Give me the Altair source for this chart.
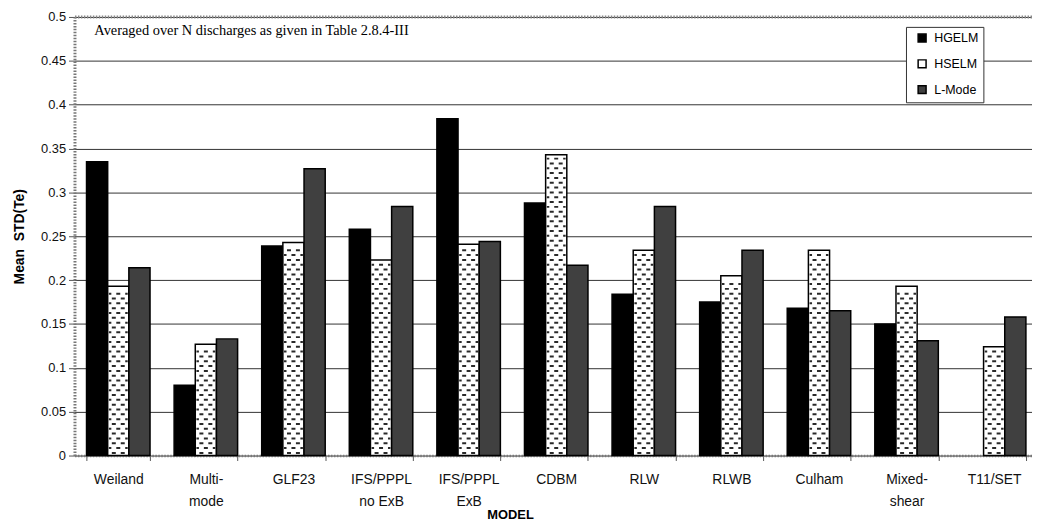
import altair as alt
import pandas as pd

# ---- data ----
models = ["Weiland", "Multi-|mode", "GLF23", "IFS/PPPL|no ExB", "IFS/PPPL|ExB",
          "CDBM", "RLW", "RLWB", "Culham", "Mixed-|shear", "T11/SET"]
series = ["HGELM", "HSELM", "L-Mode"]
hgelm = [0.335, 0.080, 0.239, 0.258, 0.384, 0.288, 0.184, 0.175, 0.168, 0.150, None]
hselm = [0.193, 0.127, 0.243, 0.223, 0.241, 0.343, 0.234, 0.205, 0.234, 0.193, 0.124]
lmode = [0.214, 0.133, 0.327, 0.284, 0.244, 0.217, 0.284, 0.234, 0.165, 0.131, 0.158]
y_ticks = [0, 0.05, 0.1, 0.15, 0.2, 0.25, 0.3, 0.35, 0.4, 0.45, 0.5]
note = "Averaged over N discharges as given in Table 2.8.4-III"

rows = []
for m, a, b, c in zip(models, hgelm, hselm, lmode):
    for s, v in zip(series, (a, b, c)):
        if v is not None:
            rows.append({"model": m, "series": s, "value": v})
df = pd.DataFrame(rows)

# dotted fill pattern for the HSELM bars, derived from the HSELM values
pat = []
for m, v in zip(models, hselm):
    k = 0
    yy = 0.003
    while yy < v - 0.004:
        pat.append({"model": m, "series": "HSELM", "value": yy, "kind": k % 2})
        k += 1
        yy += 0.0055
pdf = pd.DataFrame(pat)

FONT = "Liberation Sans"

xenc = alt.X("model:N", sort=models,
             scale=alt.Scale(paddingInner=0.275, paddingOuter=0.1375, range=[0, 971]),
             axis=alt.Axis(title="MODEL", labelExpr="split(datum.label, '|')",
                           labelAngle=0, labelFont=FONT, labelFontSize=14,
                           labelColor="#111", labelLineHeight=22, labelPadding=12,
                           tickBand="extent", tickSize=5, tickColor="#555",
                           domainColor="#777", domainWidth=2.5, domainDash=[1.5, 1.5],
                           titleFont=FONT, titleFontSize=13, titleFontWeight="bold",
                           titleX=439, titleY=59, titleAnchor="start", titleAlign="center",
                           titleBaseline="middle", titleColor="#000"))
xoff = alt.XOffset("series:N", sort=series, scale=alt.Scale(paddingInner=0, paddingOuter=0))
yscale = alt.Scale(domain=[0, 0.5], nice=False, zero=True)

bars = alt.Chart(df).mark_bar(stroke="black", strokeWidth=1.5).encode(
    x=xenc,
    xOffset=xoff,
    y=alt.Y("value:Q", scale=yscale,
            axis=alt.Axis(title="Mean\u00a0\u00a0STD(Te)", values=y_ticks, format="~g",
                          labelFont=FONT, labelFontSize=13, labelColor="#111",
                          tickSize=6, tickColor="#555", labelPadding=3,
                          domainColor="#777", domainWidth=3, domainDash=[1.5, 1.5],
                          grid=True, gridColor="#333", gridWidth=1,
                          titleFont=FONT, titleFontSize=14, titleFontWeight="bold",
                          titleColor="#000", titleX=-55, titleY=221,
                          titleAlign="center", titleBaseline="middle", titleAngle=270)),
    fill=alt.Fill("series:N", sort=series,
                  scale=alt.Scale(domain=series, range=["#000000", "#ffffff", "#404040"]),
                  legend=alt.Legend(title=None, orient="none", legendX=838, legendY=10,
                                    strokeColor="#333", fillColor="white", padding=5,
                                    symbolType="square", symbolSize=64,
                                    symbolStrokeColor="black", symbolStrokeWidth=1.5,
                                    labelFont=FONT, labelFontSize=12.5, labelColor="#000",
                                    labelOffset=6, rowPadding=11, symbolOffset=5)),
)

shapeA = "M-6.5,-1H-2.5V1H-6.5Z M2.5,-1H6.5V1H2.5Z"
shapeB = "M-2,-1H2V1H-2Z M7,-1H9.5V1H7Z M-9.5,-1H-7V1H-9.5Z"
pattern = alt.Chart(pdf).mark_point(filled=True, size=4, opacity=1, color="#2a2a2a").encode(
    x=alt.X("model:N", sort=models),
    xOffset=alt.XOffset("series:N", sort=series),
    y=alt.Y("value:Q", scale=yscale),
    shape=alt.Shape("kind:N", scale=alt.Scale(domain=[0, 1], range=[shapeA, shapeB]), legend=None),
)

top_border = alt.Chart(pd.DataFrame({"v": [0.5]})).mark_rule(
    color="#888", strokeWidth=3, strokeDash=[1.5, 1.5]).encode(y=alt.Y("v:Q", scale=yscale))

text = alt.Chart(pd.DataFrame({"t": [note]})).mark_text(
    align="left", baseline="alphabetic", font="Liberation Serif", fontSize=14.5, color="#000"
).encode(x=alt.value(20), y=alt.value(18), text="t:N")

chart = alt.layer(bars, pattern, top_border, text).properties(
    width=965, height=442,
    autosize=alt.AutoSizeParams(type="none"),
    padding={"left": 67, "top": 7, "right": 0, "bottom": 72},
    background="white",
).configure_view(stroke=None)

chart.save("out.html", embed_options={"renderer": "svg", "actions": False})
